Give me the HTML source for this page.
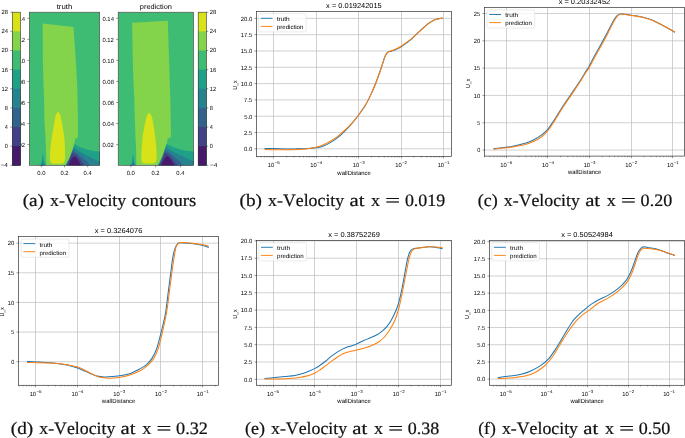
<!DOCTYPE html>
<html><head><meta charset="utf-8"><style>
html,body{margin:0;padding:0;background:#fff;width:685px;height:438px;overflow:hidden}
svg{display:block;font-family:"Liberation Sans",sans-serif;will-change:transform;font-kerning:none;text-rendering:geometricPrecision}
</style></head><body>
<svg width="685" height="438" viewBox="0 0 685 438">
<rect width="685" height="438" fill="#fff"/>
<defs>
<clipPath id="ct"><rect x="29.3" y="12.2" width="70.4" height="153.1"/></clipPath>
<clipPath id="cp"><rect x="118.2" y="12.2" width="75.4" height="153.1"/></clipPath>
</defs>
<g clip-path="url(#ct)">
<rect x="29.3" y="12.2" width="70.4" height="153.1" fill="#3fbc73"/>
<path d="M34.3,165.8 Q39.9,164.4 42.9,164.3 L42.9,165.8 Z" fill="#1fa088"/>
<path d="M42.9,153.2C43.12,153.2 43.36,155.72 43.56,156.98C43.76,158.24 43.87,159.67 44.09,160.76C44.31,161.85 44.53,162.69 44.88,163.53C45.23,164.37 47.08,165.42 46.2,165.8C45.32,166.18 40.48,166.18 39.6,165.8C38.72,165.42 40.57,164.37 40.92,163.53C41.27,162.69 41.49,161.85 41.71,160.76C41.93,159.67 42.04,158.24 42.24,156.98C42.44,155.72 42.68,153.2 42.9,153.2Z" fill="#1fa088"/>
<path d="M42.9,159.8C43.05,159.8 43.21,161 43.34,161.6C43.47,162.2 43.55,162.88 43.69,163.4C43.84,163.92 43.99,164.32 44.22,164.72C44.45,165.12 45.69,165.62 45.1,165.8C44.51,165.98 41.29,165.98 40.7,165.8C40.11,165.62 41.35,165.12 41.58,164.72C41.81,164.32 41.96,163.92 42.11,163.4C42.25,162.88 42.33,162.2 42.46,161.6C42.59,161 42.75,159.8 42.9,159.8Z" fill="#26828e"/>
<path d="M42.9,162.5C42.99,162.5 43.08,163.16 43.16,163.49C43.24,163.82 43.28,164.19 43.37,164.48C43.45,164.77 43.54,164.99 43.68,165.21C43.82,165.43 44.55,165.7 44.2,165.8C43.85,165.9 41.95,165.9 41.6,165.8C41.25,165.7 41.98,165.43 42.12,165.21C42.26,164.99 42.35,164.77 42.43,164.48C42.52,164.19 42.56,163.82 42.64,163.49C42.72,163.16 42.81,162.5 42.9,162.5Z" fill="#33638d"/>
<path d="M42.7,23.5 73.5,26.9 75.8,60 77.4,90 77.9,120 77.9,137.2 75.1,138.9 74.2,143.5 73,148.6 71.3,153.6 69.2,158.7 67.1,162.5 65.4,165.5 46.6,165.5 46.3,160.8 45.6,140 44.4,120 44.1,100 43.4,80 42.9,60Z" fill="#84d44b"/>
<path d="M58.1,112C58.4,112 58.73,112.22 59,112.5C59.27,112.78 59.45,113.2 59.7,113.7C59.95,114.2 60.27,114.73 60.5,115.5C60.73,116.27 60.72,116.32 61.1,118.3C61.48,120.28 62.28,124.37 62.8,127.4C63.32,130.43 63.87,133.57 64.2,136.5C64.53,139.43 64.67,142.25 64.8,145C64.93,147.75 65,150.67 65,153C65,155.33 64.93,157.5 64.8,159C64.67,160.5 64.67,161.25 64.2,162C63.73,162.75 63.2,163.2 62,163.5C60.8,163.8 58.62,163.82 57,163.8C55.38,163.78 53.4,163.78 52.3,163.4C51.2,163.02 50.8,162.57 50.4,161.5C50,160.43 49.92,158.92 49.9,157C49.88,155.08 50.12,152.33 50.3,150C50.48,147.67 50.73,145.25 51,143C51.27,140.75 51.48,139.1 51.9,136.5C52.32,133.9 52.97,130.43 53.5,127.4C54.03,124.37 54.73,120.28 55.1,118.3C55.47,116.32 55.47,116.27 55.7,115.5C55.93,114.73 56.25,114.2 56.5,113.7C56.75,113.2 56.93,112.78 57.2,112.5C57.47,112.22 57.8,112 58.1,112Z" fill="#d8e219"/>
<path d="M74.7,143.9 78.9,146.5 85.6,149.2 92.4,150.7 99.1,151.5 100,151.5 100,166 65,166 67.1,162.5 69.2,158.7 71.3,153.6 73,148.6Z" fill="#1fa088"/>
<path d="M73.8,146.9 78.9,151.1 85.6,154.9 92.4,158.3 99.1,161.6 100,161.8 100,166 65.5,166 67.3,162.5 69.5,158.3 71.6,153.3Z" fill="#26828e"/>
<path d="M73,150.3 78,154 83.1,158.3 87.3,162.1 89.4,164.6 90,166 66,166 67.8,162.5 69.8,158.3 71.8,153.6Z" fill="#33638d"/>
<path d="M72.1,152.4 76.8,155.3 80.6,160 83.5,164.6 84,166 66.5,166 68.2,162.5 70.2,157.8Z" fill="#424086"/>
<path d="M69.5,163 71.3,159.1 74.2,156.2 76.8,158.3 78.9,161.6 80.6,164.6 81,166 68.5,166Z" fill="#48186a"/>
</g>
<rect x="29.3" y="12.2" width="70.4" height="153.1" fill="none" stroke="#333" stroke-width="0.6"/>
<text x="37.25" y="174.5" font-size="5.94" textLength="8.19" lengthAdjust="spacingAndGlyphs" fill="#000">0.0</text>
<text x="60.41" y="174.5" font-size="5.94" textLength="8.07" lengthAdjust="spacingAndGlyphs" fill="#000">0.2</text>
<text x="83.61" y="174.5" font-size="5.94" textLength="8.18" lengthAdjust="spacingAndGlyphs" fill="#000">0.4</text>
<text x="13.52" y="20.6" font-size="5.94" textLength="11.56" lengthAdjust="spacingAndGlyphs" fill="#000">0.14</text>
<text x="13.52" y="41.65" font-size="5.94" textLength="11.45" lengthAdjust="spacingAndGlyphs" fill="#000">0.12</text>
<text x="13.52" y="62.7" font-size="5.94" textLength="11.56" lengthAdjust="spacingAndGlyphs" fill="#000">0.10</text>
<text x="13.52" y="83.75" font-size="5.94" textLength="11.58" lengthAdjust="spacingAndGlyphs" fill="#000">0.08</text>
<text x="13.52" y="104.8" font-size="5.94" textLength="11.61" lengthAdjust="spacingAndGlyphs" fill="#000">0.06</text>
<text x="13.52" y="125.85" font-size="5.94" textLength="11.56" lengthAdjust="spacingAndGlyphs" fill="#000">0.04</text>
<text x="13.52" y="146.9" font-size="5.94" textLength="11.45" lengthAdjust="spacingAndGlyphs" fill="#000">0.02</text>
<path d="M41.35,165.3v2M64.5,165.3v2M87.7,165.3v2M29.3,18.3h-2M29.3,39.35h-2M29.3,60.4h-2M29.3,81.45h-2M29.3,102.5h-2M29.3,123.55h-2M29.3,144.6h-2" stroke="#333" stroke-width="0.5"/>
<text x="56.67" y="8.9" font-size="7.17" textLength="15.67" lengthAdjust="spacingAndGlyphs" fill="#000">truth</text>
<g clip-path="url(#cp)">
<rect x="118.2" y="12.2" width="75.4" height="153.1" fill="#3fbc73"/>
<path d="M123.2,165.8 Q130.1,164.4 133.1,164.3 L133.1,165.8 Z" fill="#1fa088"/>
<path d="M133.1,154C133.32,154 133.56,156.36 133.76,157.54C133.96,158.72 134.07,160.06 134.29,161.08C134.51,162.1 134.73,162.89 135.08,163.68C135.43,164.46 137.28,165.45 136.4,165.8C135.52,166.15 130.68,166.15 129.8,165.8C128.92,165.45 130.77,164.46 131.12,163.68C131.47,162.89 131.69,162.1 131.91,161.08C132.13,160.06 132.24,158.72 132.44,157.54C132.64,156.36 132.88,154 133.1,154Z" fill="#1fa088"/>
<path d="M133.1,159.8C133.25,159.8 133.41,161 133.54,161.6C133.67,162.2 133.75,162.88 133.89,163.4C134.04,163.92 134.19,164.32 134.42,164.72C134.65,165.12 135.89,165.62 135.3,165.8C134.71,165.98 131.49,165.98 130.9,165.8C130.31,165.62 131.55,165.12 131.78,164.72C132.01,164.32 132.16,163.92 132.31,163.4C132.45,162.88 132.53,162.2 132.66,161.6C132.79,161 132.95,159.8 133.1,159.8Z" fill="#26828e"/>
<path d="M133.1,162.5C133.19,162.5 133.28,163.16 133.36,163.49C133.44,163.82 133.48,164.19 133.57,164.48C133.65,164.77 133.74,164.99 133.88,165.21C134.02,165.43 134.75,165.7 134.4,165.8C134.05,165.9 132.15,165.9 131.8,165.8C131.45,165.7 132.18,165.43 132.32,165.21C132.46,164.99 132.55,164.77 132.63,164.48C132.72,164.19 132.76,163.82 132.84,163.49C132.92,163.16 133.01,162.5 133.1,162.5Z" fill="#33638d"/>
<path d="M132.1,22.8 167.8,20.8 169.1,60 170.3,100 170.9,130 170.9,137.2 167.7,138.4 166.8,142.7 165.5,146.9 163.9,151.9 161.8,157.8 159.2,162.9 157.5,165.5 136.4,165.5 136.3,162 136.1,150 135.6,140 134.9,120 134.3,100 133.4,80 132.8,60Z" fill="#84d44b"/>
<path d="M149.2,113.1C149.5,113.1 149.83,113.32 150.1,113.6C150.37,113.88 150.55,114.3 150.8,114.8C151.05,115.3 151.37,116.02 151.6,116.6C151.83,117.18 151.82,116.5 152.2,118.3C152.58,120.1 153.42,124.37 153.9,127.4C154.38,130.43 154.73,133.57 155.1,136.5C155.47,139.43 155.85,142.25 156.1,145C156.35,147.75 156.55,150.67 156.6,153C156.65,155.33 156.57,157.5 156.4,159C156.23,160.5 156.08,161.28 155.6,162C155.12,162.72 154.6,163.03 153.5,163.3C152.4,163.57 150.58,163.6 149,163.6C147.42,163.6 145.18,163.6 144,163.3C142.82,163 142.37,162.85 141.9,161.8C141.43,160.75 141.25,158.97 141.2,157C141.15,155.03 141.45,152.33 141.6,150C141.75,147.67 141.93,145.25 142.1,143C142.27,140.75 142.25,139.1 142.6,136.5C142.95,133.9 143.6,130.43 144.2,127.4C144.8,124.37 145.77,120.1 146.2,118.3C146.63,116.5 146.57,117.18 146.8,116.6C147.03,116.02 147.35,115.3 147.6,114.8C147.85,114.3 148.03,113.88 148.3,113.6C148.57,113.32 148.9,113.1 149.2,113.1Z" fill="#d8e219"/>
<path d="M166.8,143.9 171.9,146.5 178.6,149 185.4,150.7 193.8,151.5 194,151.5 194,166 157,166 159.2,162.9 161.8,157.8 163.9,151.9 165.5,146.9Z" fill="#1fa088"/>
<path d="M166,146.9 171.9,151.1 178.6,154.5 185.4,157.8 193.8,161.2 194,161.3 194,166 157.6,166 159.6,162.9 162.2,157.8 164.2,152Z" fill="#26828e"/>
<path d="M165.1,150.3 170.2,153.6 175.3,157.8 180.3,162.1 182.8,164.6 183.5,166 158.2,166 160.2,162.9 162.6,157.8 164.4,153Z" fill="#33638d"/>
<path d="M164.7,152.4 169.3,155.3 173.6,160.4 176.9,164.6 177.5,166 158.8,166 160.8,162.5 162.8,157.6Z" fill="#424086"/>
<path d="M160.5,166 161.3,164.6 164.3,158.7 166.8,156.2 169.3,157.8 171.9,161.2 174,164.6 174.5,166Z" fill="#48186a"/>
</g>
<rect x="118.2" y="12.2" width="75.4" height="153.1" fill="none" stroke="#333" stroke-width="0.6"/>
<text x="126.7" y="174.5" font-size="5.94" textLength="8.19" lengthAdjust="spacingAndGlyphs" fill="#000">0.0</text>
<text x="151.51" y="174.5" font-size="5.94" textLength="8.07" lengthAdjust="spacingAndGlyphs" fill="#000">0.2</text>
<text x="176.31" y="174.5" font-size="5.94" textLength="8.18" lengthAdjust="spacingAndGlyphs" fill="#000">0.4</text>
<text x="102.42" y="20.6" font-size="5.94" textLength="11.56" lengthAdjust="spacingAndGlyphs" fill="#000">0.14</text>
<text x="102.42" y="41.65" font-size="5.94" textLength="11.45" lengthAdjust="spacingAndGlyphs" fill="#000">0.12</text>
<text x="102.42" y="62.7" font-size="5.94" textLength="11.56" lengthAdjust="spacingAndGlyphs" fill="#000">0.10</text>
<text x="102.42" y="83.75" font-size="5.94" textLength="11.58" lengthAdjust="spacingAndGlyphs" fill="#000">0.08</text>
<text x="102.42" y="104.8" font-size="5.94" textLength="11.61" lengthAdjust="spacingAndGlyphs" fill="#000">0.06</text>
<text x="102.42" y="125.85" font-size="5.94" textLength="11.56" lengthAdjust="spacingAndGlyphs" fill="#000">0.04</text>
<text x="102.42" y="146.9" font-size="5.94" textLength="11.45" lengthAdjust="spacingAndGlyphs" fill="#000">0.02</text>
<path d="M130.8,165.3v2M155.6,165.3v2M180.4,165.3v2M118.2,18.3h-2M118.2,39.35h-2M118.2,60.4h-2M118.2,81.45h-2M118.2,102.5h-2M118.2,123.55h-2M118.2,144.6h-2" stroke="#333" stroke-width="0.5"/>
<text x="139.88" y="8.9" font-size="7.17" textLength="32.08" lengthAdjust="spacingAndGlyphs" fill="#000">prediction</text>
<rect x="12" y="11.7" width="8.7" height="154.1" fill="#fff"/>
<rect x="12.3" y="12.2" width="8.1" height="153.1" fill="#d8e219"/>
<rect x="12.3" y="31.34" width="8.1" height="133.96" fill="#84d44b"/>
<rect x="12.3" y="50.48" width="8.1" height="114.83" fill="#3fbc73"/>
<rect x="12.3" y="69.61" width="8.1" height="95.69" fill="#1fa088"/>
<rect x="12.3" y="88.75" width="8.1" height="76.55" fill="#26828e"/>
<rect x="12.3" y="107.89" width="8.1" height="57.41" fill="#33638d"/>
<rect x="12.3" y="127.03" width="8.1" height="38.28" fill="#424086"/>
<rect x="12.3" y="146.16" width="8.1" height="19.14" fill="#48186a"/>
<rect x="12.3" y="12.2" width="8.1" height="153.1" fill="none" stroke="#333" stroke-width="0.6"/>
<text x="1.45" y="14.15" font-size="5.94" textLength="6.55" lengthAdjust="spacingAndGlyphs" fill="#000">28</text>
<text x="1.45" y="33.29" font-size="5.94" textLength="6.53" lengthAdjust="spacingAndGlyphs" fill="#000">24</text>
<text x="1.45" y="52.43" font-size="5.94" textLength="6.53" lengthAdjust="spacingAndGlyphs" fill="#000">20</text>
<text x="1.49" y="71.56" font-size="5.94" textLength="6.53" lengthAdjust="spacingAndGlyphs" fill="#000">16</text>
<text x="1.5" y="90.7" font-size="5.94" textLength="6.35" lengthAdjust="spacingAndGlyphs" fill="#000">12</text>
<text x="4.84" y="109.84" font-size="5.94" textLength="3.14" lengthAdjust="spacingAndGlyphs" fill="#000">8</text>
<text x="4.86" y="128.98" font-size="5.94" textLength="3.11" lengthAdjust="spacingAndGlyphs" fill="#000">4</text>
<text x="4.86" y="148.11" font-size="5.94" textLength="3.11" lengthAdjust="spacingAndGlyphs" fill="#000">0</text>
<text x="0.53" y="167.25" font-size="5.94" textLength="7.47" lengthAdjust="spacingAndGlyphs" fill="#000">−4</text>
<path d="M12.3,12.2h-2M12.3,31.34h-2M12.3,50.48h-2M12.3,69.61h-2M12.3,88.75h-2M12.3,107.89h-2M12.3,127.03h-2M12.3,146.16h-2M12.3,165.3h-2" stroke="#333" stroke-width="0.5"/>
<rect x="197.9" y="11.7" width="8.7" height="154.1" fill="#fff"/>
<rect x="198.2" y="12.2" width="8.1" height="153.1" fill="#d8e219"/>
<rect x="198.2" y="31.34" width="8.1" height="133.96" fill="#84d44b"/>
<rect x="198.2" y="50.48" width="8.1" height="114.83" fill="#3fbc73"/>
<rect x="198.2" y="69.61" width="8.1" height="95.69" fill="#1fa088"/>
<rect x="198.2" y="88.75" width="8.1" height="76.55" fill="#26828e"/>
<rect x="198.2" y="107.89" width="8.1" height="57.41" fill="#33638d"/>
<rect x="198.2" y="127.03" width="8.1" height="38.28" fill="#424086"/>
<rect x="198.2" y="146.16" width="8.1" height="19.14" fill="#48186a"/>
<rect x="198.2" y="12.2" width="8.1" height="153.1" fill="none" stroke="#333" stroke-width="0.6"/>
<text x="209.79" y="14.15" font-size="5.94" textLength="6.55" lengthAdjust="spacingAndGlyphs" fill="#000">28</text>
<text x="209.79" y="33.29" font-size="5.94" textLength="6.53" lengthAdjust="spacingAndGlyphs" fill="#000">24</text>
<text x="209.79" y="52.43" font-size="5.94" textLength="6.53" lengthAdjust="spacingAndGlyphs" fill="#000">20</text>
<text x="209.83" y="71.56" font-size="5.94" textLength="6.53" lengthAdjust="spacingAndGlyphs" fill="#000">16</text>
<text x="209.85" y="90.7" font-size="5.94" textLength="6.35" lengthAdjust="spacingAndGlyphs" fill="#000">12</text>
<text x="209.81" y="109.84" font-size="5.94" textLength="3.14" lengthAdjust="spacingAndGlyphs" fill="#000">8</text>
<text x="209.83" y="128.98" font-size="5.94" textLength="3.11" lengthAdjust="spacingAndGlyphs" fill="#000">4</text>
<text x="209.83" y="148.11" font-size="5.94" textLength="3.11" lengthAdjust="spacingAndGlyphs" fill="#000">0</text>
<text x="209.94" y="167.25" font-size="5.94" textLength="7.47" lengthAdjust="spacingAndGlyphs" fill="#000">−4</text>
<path d="M206.3,12.2h2M206.3,31.34h2M206.3,50.48h2M206.3,69.61h2M206.3,88.75h2M206.3,107.89h2M206.3,127.03h2M206.3,146.16h2M206.3,165.3h2" stroke="#333" stroke-width="0.5"/>
<path d="M273.5,11.4V156.4M316.5,11.4V156.4M358.5,11.4V156.4M401.5,11.4V156.4M443.5,11.4V156.4M256.5,148.8H451.5M256.5,132.5H451.5M256.5,116.2H451.5M256.5,99.9H451.5M256.5,83.6H451.5M256.5,67.3H451.5M256.5,51H451.5M256.5,34.7H451.5M256.5,18.4H451.5" stroke="#bdbdbd" stroke-width="0.7" fill="none"/>
<path d="M264.6,148.4C266.33,148.43 271.6,148.52 275,148.6C278.4,148.68 281.67,148.85 285,148.9C288.33,148.95 291.95,148.92 295,148.9C298.05,148.88 300.8,148.9 303.3,148.8C305.8,148.7 307.57,148.5 310,148.3C312.43,148.1 315.67,147.98 317.9,147.6C320.13,147.22 321.27,146.87 323.4,146C325.53,145.13 328.27,143.83 330.7,142.4C333.13,140.97 335.88,139.07 338,137.4C340.12,135.73 341.4,134.37 343.4,132.4C345.4,130.43 347.55,128.38 350,125.6C352.45,122.82 355.47,119.22 358.1,115.7C360.73,112.18 363.52,108.37 365.8,104.5C368.08,100.63 370.08,96.2 371.8,92.5C373.52,88.8 374.67,86 376.1,82.3C377.53,78.6 379.28,73.52 380.4,70.3C381.52,67.08 382.1,65.12 382.8,63C383.5,60.88 384.03,59.07 384.6,57.6C385.17,56.13 385.63,55.08 386.2,54.2C386.77,53.32 387.33,52.77 388,52.3C388.67,51.83 389.45,51.65 390.2,51.4C390.95,51.15 391.45,51.17 392.5,50.8C393.55,50.43 395.07,49.87 396.5,49.2C397.93,48.53 398.8,48.3 401.1,46.8C403.4,45.3 407.25,42.77 410.3,40.2C413.35,37.63 416.37,34.2 419.4,31.4C422.43,28.6 425.83,25.38 428.5,23.4C431.17,21.42 433.03,20.42 435.4,19.5C437.77,18.58 441.48,18.17 442.7,17.9" stroke="#1f77b4" stroke-width="1.05" fill="none" stroke-linejoin="round" stroke-linecap="butt"/>
<path d="M264.6,149.6C266.33,149.62 271.6,149.68 275,149.7C278.4,149.72 281.05,149.73 285,149.7C288.95,149.67 294.58,149.68 298.7,149.5C302.82,149.32 306.65,149.02 309.7,148.6C312.75,148.18 314.72,147.65 317,147C319.28,146.35 321.12,145.7 323.4,144.7C325.68,143.7 328.27,142.42 330.7,141C333.13,139.58 335.62,138.03 338,136.2C340.38,134.37 342.75,132.1 345,130C347.25,127.9 349.32,125.98 351.5,123.6C353.68,121.22 355.72,118.88 358.1,115.7C360.48,112.52 363.52,108.37 365.8,104.5C368.08,100.63 370.08,96.2 371.8,92.5C373.52,88.8 374.67,86 376.1,82.3C377.53,78.6 379.28,73.52 380.4,70.3C381.52,67.08 382.1,65.15 382.8,63C383.5,60.85 384.03,58.92 384.6,57.4C385.17,55.88 385.63,54.8 386.2,53.9C386.77,53 387.33,52.47 388,52C388.67,51.53 389.45,51.37 390.2,51.1C390.95,50.83 391.45,50.8 392.5,50.4C393.55,50 395.07,49.4 396.5,48.7C397.93,48 398.8,47.7 401.1,46.2C403.4,44.7 407.25,42.12 410.3,39.7C413.35,37.28 416.37,34.37 419.4,31.7C422.43,29.03 425.83,25.72 428.5,23.7C431.17,21.68 433.03,20.57 435.4,19.6C437.77,18.63 441.48,18.18 442.7,17.9" stroke="#ff7f0e" stroke-width="1.05" fill="none" stroke-linejoin="round" stroke-linecap="butt"/>
<rect x="258.5" y="13.7" width="47.7" height="18.2" rx="1.3" fill="#fff" fill-opacity="0.8" stroke="#d6d6d6" stroke-width="0.5"/>
<path d="M260.7,18.3h11.8" stroke="#1f77b4" stroke-width="0.95"/>
<path d="M260.7,26.4h11.8" stroke="#ff7f0e" stroke-width="0.95"/>
<text x="276.74" y="21.2" font-size="5.94" textLength="12.98" lengthAdjust="spacingAndGlyphs" fill="#000">truth</text>
<text x="276.79" y="29.2" font-size="5.94" textLength="26.57" lengthAdjust="spacingAndGlyphs" fill="#000">prediction</text>
<rect x="256.5" y="11.4" width="195" height="145" fill="none" stroke="#333" stroke-width="0.7"/>
<path d="M256.91,156.4v1.1M261.02,156.4v1.1M264.38,156.4v1.1M267.22,156.4v1.1M269.69,156.4v1.1M271.86,156.4v1.1M273.5,156.4v2M286.58,156.4v1.1M294.05,156.4v1.1M299.36,156.4v1.1M303.47,156.4v1.1M306.83,156.4v1.1M309.67,156.4v1.1M312.14,156.4v1.1M314.31,156.4v1.1M316.5,156.4v2M329.03,156.4v1.1M336.5,156.4v1.1M341.81,156.4v1.1M345.92,156.4v1.1M349.28,156.4v1.1M352.12,156.4v1.1M354.59,156.4v1.1M356.76,156.4v1.1M358.5,156.4v2M371.48,156.4v1.1M378.95,156.4v1.1M384.26,156.4v1.1M388.37,156.4v1.1M391.73,156.4v1.1M394.57,156.4v1.1M397.04,156.4v1.1M399.21,156.4v1.1M401.5,156.4v2M413.93,156.4v1.1M421.4,156.4v1.1M426.71,156.4v1.1M430.82,156.4v1.1M434.18,156.4v1.1M437.02,156.4v1.1M439.49,156.4v1.1M441.66,156.4v1.1M443.5,156.4v2M256.5,148.8h-2M256.5,132.5h-2M256.5,116.2h-2M256.5,99.9h-2M256.5,83.6h-2M256.5,67.3h-2M256.5,51h-2M256.5,34.7h-2M256.5,18.4h-2" stroke="#333" stroke-width="0.5" fill="none"/>
<text x="267.83" y="166.8" font-size="5.94" textLength="6.48" lengthAdjust="spacingAndGlyphs" fill="#000">10</text>
<text x="274.61" y="164" font-size="4.16" textLength="5.17" lengthAdjust="spacingAndGlyphs" fill="#000">−5</text>
<text x="310.28" y="166.8" font-size="5.94" textLength="6.48" lengthAdjust="spacingAndGlyphs" fill="#000">10</text>
<text x="317.05" y="164" font-size="4.16" textLength="5.23" lengthAdjust="spacingAndGlyphs" fill="#000">−4</text>
<text x="352.73" y="166.8" font-size="5.94" textLength="6.48" lengthAdjust="spacingAndGlyphs" fill="#000">10</text>
<text x="359.51" y="164" font-size="4.16" textLength="5.2" lengthAdjust="spacingAndGlyphs" fill="#000">−3</text>
<text x="395.18" y="166.8" font-size="5.94" textLength="6.48" lengthAdjust="spacingAndGlyphs" fill="#000">10</text>
<text x="401.96" y="164" font-size="4.16" textLength="5.15" lengthAdjust="spacingAndGlyphs" fill="#000">−2</text>
<text x="437.63" y="166.8" font-size="5.94" textLength="6.48" lengthAdjust="spacingAndGlyphs" fill="#000">10</text>
<text x="444.41" y="164" font-size="4.16" textLength="5.18" lengthAdjust="spacingAndGlyphs" fill="#000">−1</text>
<text x="244.09" y="151.1" font-size="5.94" textLength="8.19" lengthAdjust="spacingAndGlyphs" fill="#000">0.0</text>
<text x="244.07" y="134.8" font-size="5.94" textLength="8.12" lengthAdjust="spacingAndGlyphs" fill="#000">2.5</text>
<text x="244.15" y="118.5" font-size="5.94" textLength="8.13" lengthAdjust="spacingAndGlyphs" fill="#000">5.0</text>
<text x="244.11" y="102.2" font-size="5.94" textLength="8.07" lengthAdjust="spacingAndGlyphs" fill="#000">7.5</text>
<text x="240.73" y="85.9" font-size="5.94" textLength="11.55" lengthAdjust="spacingAndGlyphs" fill="#000">10.0</text>
<text x="240.73" y="69.6" font-size="5.94" textLength="11.45" lengthAdjust="spacingAndGlyphs" fill="#000">12.5</text>
<text x="240.73" y="53.3" font-size="5.94" textLength="11.55" lengthAdjust="spacingAndGlyphs" fill="#000">15.0</text>
<text x="240.73" y="37" font-size="5.94" textLength="11.45" lengthAdjust="spacingAndGlyphs" fill="#000">17.5</text>
<text x="240.69" y="20.7" font-size="5.94" textLength="11.59" lengthAdjust="spacingAndGlyphs" fill="#000">20.0</text>
<text x="337.38" y="174.5" font-size="5.94" textLength="33.45" lengthAdjust="spacingAndGlyphs" fill="#000">wallDistance</text>
<g transform="translate(236.9,85) rotate(-90)">
<text x="-4.78" y="0" font-size="5.94" textLength="9.5" lengthAdjust="spacingAndGlyphs" fill="#000">U_x</text>
</g>
<text x="326.11" y="8.3" font-size="7.17" textLength="55.62" lengthAdjust="spacingAndGlyphs" fill="#000">x = 0.019242015</text>
<path d="M506.5,7.4V156.1M547.5,7.4V156.1M589.5,7.4V156.1M631.5,7.4V156.1M672.5,7.4V156.1M484.5,150.05H684.5M484.5,122.74H684.5M484.5,95.43H684.5M484.5,68.12H684.5M484.5,40.81H684.5M484.5,13.5H684.5" stroke="#bdbdbd" stroke-width="0.7" fill="none"/>
<path d="M493.4,148.7C495.12,148.52 500.47,148 503.7,147.6C506.93,147.2 509.38,146.97 512.8,146.3C516.22,145.63 520.77,144.65 524.2,143.6C527.63,142.55 530.55,141.4 533.4,140C536.25,138.6 538.95,136.93 541.3,135.2C543.65,133.47 545.4,132.03 547.5,129.6C549.6,127.17 551.32,124.53 553.9,120.6C556.48,116.67 559.95,110.67 563,106C566.05,101.33 569.37,96.77 572.2,92.6C575.03,88.43 577.97,84.15 580,81C582.03,77.85 582.9,76.13 584.4,73.7C585.9,71.27 587.23,69.52 589,66.4C590.77,63.28 593,58.68 595,55C597,51.32 598.98,47.97 601,44.3C603.02,40.63 605.18,36.65 607.1,33C609.02,29.35 610.95,25.18 612.5,22.4C614.05,19.62 615.12,17.7 616.4,16.3C617.68,14.9 618.8,14.33 620.2,14C621.6,13.67 623.02,14.1 624.8,14.3C626.58,14.5 627.85,14.7 630.9,15.2C633.95,15.7 639.7,16.53 643.1,17.3C646.5,18.07 648.22,18.57 651.3,19.8C654.38,21.03 657.65,22.63 661.6,24.7C665.55,26.77 672.77,30.95 675,32.2" stroke="#1f77b4" stroke-width="1.05" fill="none" stroke-linejoin="round" stroke-linecap="butt"/>
<path d="M493.4,149.2C495.12,149.02 500.47,148.47 503.7,148.1C506.93,147.73 509.38,147.55 512.8,147C516.22,146.45 520.77,145.7 524.2,144.8C527.63,143.9 530.55,142.9 533.4,141.6C536.25,140.3 538.95,138.73 541.3,137C543.65,135.27 545.4,133.72 547.5,131.2C549.6,128.68 551.32,125.9 553.9,121.9C556.48,117.9 559.95,111.92 563,107.2C566.05,102.48 569.37,97.8 572.2,93.6C575.03,89.4 577.87,85.32 580,82C582.13,78.68 583.4,76.22 585,73.7C586.6,71.18 587.82,69.95 589.6,66.9C591.38,63.85 593.67,59.1 595.7,55.4C597.73,51.7 599.77,48.4 601.8,44.7C603.83,41 605.98,36.9 607.9,33.2C609.82,29.5 611.77,25.3 613.3,22.5C614.83,19.7 615.83,17.8 617.1,16.4C618.37,15 619.62,14.43 620.9,14.1C622.18,13.77 623.13,14.2 624.8,14.4C626.47,14.6 627.85,14.78 630.9,15.3C633.95,15.82 639.7,16.73 643.1,17.5C646.5,18.27 648.22,18.68 651.3,19.9C654.38,21.12 657.65,22.75 661.6,24.8C665.55,26.85 672.77,30.97 675,32.2" stroke="#ff7f0e" stroke-width="1.05" fill="none" stroke-linejoin="round" stroke-linecap="butt"/>
<rect x="487" y="9.9" width="47.7" height="18.2" rx="1.3" fill="#fff" fill-opacity="0.8" stroke="#d6d6d6" stroke-width="0.5"/>
<path d="M489.2,14.5h11.8" stroke="#1f77b4" stroke-width="0.95"/>
<path d="M489.2,22.6h11.8" stroke="#ff7f0e" stroke-width="0.95"/>
<text x="505.24" y="17.4" font-size="5.94" textLength="12.98" lengthAdjust="spacingAndGlyphs" fill="#000">truth</text>
<text x="505.29" y="25.4" font-size="5.94" textLength="26.57" lengthAdjust="spacingAndGlyphs" fill="#000">prediction</text>
<rect x="484.5" y="7.4" width="200" height="148.7" fill="none" stroke="#333" stroke-width="0.7"/>
<path d="M484.52,156.1v1.1M489.73,156.1v1.1M493.76,156.1v1.1M497.06,156.1v1.1M499.85,156.1v1.1M502.26,156.1v1.1M504.39,156.1v1.1M506.5,156.1v2M518.84,156.1v1.1M526.17,156.1v1.1M531.38,156.1v1.1M535.41,156.1v1.1M538.71,156.1v1.1M541.5,156.1v1.1M543.91,156.1v1.1M546.04,156.1v1.1M547.5,156.1v2M560.49,156.1v1.1M567.82,156.1v1.1M573.03,156.1v1.1M577.06,156.1v1.1M580.36,156.1v1.1M583.15,156.1v1.1M585.56,156.1v1.1M587.69,156.1v1.1M589.5,156.1v2M602.14,156.1v1.1M609.47,156.1v1.1M614.68,156.1v1.1M618.71,156.1v1.1M622.01,156.1v1.1M624.8,156.1v1.1M627.21,156.1v1.1M629.34,156.1v1.1M631.5,156.1v2M643.79,156.1v1.1M651.12,156.1v1.1M656.33,156.1v1.1M660.36,156.1v1.1M663.66,156.1v1.1M666.45,156.1v1.1M668.86,156.1v1.1M670.99,156.1v1.1M672.5,156.1v2M484.5,150.05h-2M484.5,122.74h-2M484.5,95.43h-2M484.5,68.12h-2M484.5,40.81h-2M484.5,13.5h-2" stroke="#333" stroke-width="0.5" fill="none"/>
<text x="500.33" y="166.5" font-size="5.94" textLength="6.48" lengthAdjust="spacingAndGlyphs" fill="#000">10</text>
<text x="507.11" y="163.7" font-size="4.16" textLength="5.17" lengthAdjust="spacingAndGlyphs" fill="#000">−5</text>
<text x="541.98" y="166.5" font-size="5.94" textLength="6.48" lengthAdjust="spacingAndGlyphs" fill="#000">10</text>
<text x="548.75" y="163.7" font-size="4.16" textLength="5.23" lengthAdjust="spacingAndGlyphs" fill="#000">−4</text>
<text x="583.63" y="166.5" font-size="5.94" textLength="6.48" lengthAdjust="spacingAndGlyphs" fill="#000">10</text>
<text x="590.41" y="163.7" font-size="4.16" textLength="5.2" lengthAdjust="spacingAndGlyphs" fill="#000">−3</text>
<text x="625.28" y="166.5" font-size="5.94" textLength="6.48" lengthAdjust="spacingAndGlyphs" fill="#000">10</text>
<text x="632.06" y="163.7" font-size="4.16" textLength="5.15" lengthAdjust="spacingAndGlyphs" fill="#000">−2</text>
<text x="666.93" y="166.5" font-size="5.94" textLength="6.48" lengthAdjust="spacingAndGlyphs" fill="#000">10</text>
<text x="673.71" y="163.7" font-size="4.16" textLength="5.18" lengthAdjust="spacingAndGlyphs" fill="#000">−1</text>
<text x="477.16" y="152.35" font-size="5.94" textLength="3.11" lengthAdjust="spacingAndGlyphs" fill="#000">0</text>
<text x="477.23" y="125.04" font-size="5.94" textLength="2.93" lengthAdjust="spacingAndGlyphs" fill="#000">5</text>
<text x="473.79" y="97.73" font-size="5.94" textLength="6.48" lengthAdjust="spacingAndGlyphs" fill="#000">10</text>
<text x="473.8" y="70.42" font-size="5.94" textLength="6.38" lengthAdjust="spacingAndGlyphs" fill="#000">15</text>
<text x="473.75" y="43.11" font-size="5.94" textLength="6.53" lengthAdjust="spacingAndGlyphs" fill="#000">20</text>
<text x="473.75" y="15.8" font-size="5.94" textLength="6.43" lengthAdjust="spacingAndGlyphs" fill="#000">25</text>
<text x="567.88" y="174.2" font-size="5.94" textLength="33.45" lengthAdjust="spacingAndGlyphs" fill="#000">wallDistance</text>
<g transform="translate(469.6,83.3) rotate(-90)">
<text x="-4.78" y="0" font-size="5.94" textLength="9.5" lengthAdjust="spacingAndGlyphs" fill="#000">U_x</text>
</g>
<text x="558.65" y="4.3" font-size="7.17" textLength="51.53" lengthAdjust="spacingAndGlyphs" fill="#000">x = 0.20332452</text>
<path d="M35.5,236.5V385.3M77.5,236.5V385.3M119.5,236.5V385.3M160.5,236.5V385.3M202.5,236.5V385.3M18.5,361.7H218.5M18.5,332.06H218.5M18.5,302.43H218.5M18.5,272.79H218.5M18.5,243.15H218.5" stroke="#bdbdbd" stroke-width="0.7" fill="none"/>
<path d="M27,361.5C28.47,361.57 32,361.68 35.8,361.9C39.6,362.12 45.13,362.37 49.8,362.8C54.47,363.23 60,363.9 63.8,364.5C67.6,365.1 69.68,365.58 72.6,366.4C75.52,367.22 78.4,368.23 81.3,369.4C84.2,370.57 87.37,372.28 90,373.4C92.63,374.52 94.75,375.5 97.1,376.1C99.45,376.7 101.47,376.92 104.1,377C106.73,377.08 109.98,376.85 112.9,376.6C115.82,376.35 118.68,376.03 121.6,375.5C124.52,374.97 127.48,374.43 130.4,373.4C133.32,372.37 136.43,370.73 139.1,369.3C141.77,367.87 144.27,366.62 146.4,364.8C148.53,362.98 150.22,360.98 151.9,358.4C153.58,355.82 155.13,352.95 156.5,349.3C157.87,345.65 159.05,340.47 160.1,336.5C161.15,332.53 161.88,329.45 162.8,325.5C163.72,321.55 164.6,319.08 165.6,312.8C166.6,306.52 167.92,294.63 168.8,287.8C169.68,280.97 170.23,276.87 170.9,271.8C171.57,266.73 172.08,261.4 172.8,257.4C173.52,253.4 174.4,250.07 175.2,247.8C176,245.53 176.8,244.65 177.6,243.8C178.4,242.95 178.13,242.78 180,242.7C181.87,242.62 185.73,242.98 188.8,243.3C191.87,243.62 195.73,244.17 198.4,244.6C201.07,245.03 203.07,245.42 204.8,245.9C206.53,246.38 208.13,247.23 208.8,247.5" stroke="#1f77b4" stroke-width="1.05" fill="none" stroke-linejoin="round" stroke-linecap="butt"/>
<path d="M27,362.4C30.8,362.5 43.67,362.7 49.8,363C55.93,363.3 59.13,363.52 63.8,364.2C68.47,364.88 73.43,365.65 77.8,367.1C82.17,368.55 86.5,371.25 90,372.9C93.5,374.55 95.58,376.12 98.8,377C102.02,377.88 105.78,378.15 109.3,378.2C112.82,378.25 116.38,377.87 119.9,377.3C123.42,376.73 126.88,375.97 130.4,374.8C133.92,373.63 138.03,371.97 141,370.3C143.97,368.63 146.08,366.78 148.2,364.8C150.32,362.82 152.02,361.13 153.7,358.4C155.38,355.67 157.02,352.05 158.3,348.4C159.58,344.75 160.03,342.43 161.4,336.5C162.77,330.57 165.08,320.92 166.5,312.8C167.92,304.68 168.98,294.63 169.9,287.8C170.82,280.97 171.3,276.87 172,271.8C172.7,266.73 173.43,261.53 174.1,257.4C174.77,253.27 175.28,249.35 176,247C176.72,244.65 177.6,244.05 178.4,243.3C179.2,242.55 178.53,242.5 180.8,242.5C183.07,242.5 188.53,242.95 192,243.3C195.47,243.65 198.8,244.17 201.6,244.6C204.4,245.03 207.6,245.68 208.8,245.9" stroke="#ff7f0e" stroke-width="1.05" fill="none" stroke-linejoin="round" stroke-linecap="butt"/>
<rect x="21.2" y="239" width="47.7" height="18.2" rx="1.3" fill="#fff" fill-opacity="0.8" stroke="#d6d6d6" stroke-width="0.5"/>
<path d="M23.4,243.6h11.8" stroke="#1f77b4" stroke-width="0.95"/>
<path d="M23.4,251.7h11.8" stroke="#ff7f0e" stroke-width="0.95"/>
<text x="39.44" y="246.5" font-size="5.94" textLength="12.98" lengthAdjust="spacingAndGlyphs" fill="#000">truth</text>
<text x="39.49" y="254.5" font-size="5.94" textLength="26.57" lengthAdjust="spacingAndGlyphs" fill="#000">prediction</text>
<rect x="18.5" y="236.5" width="200" height="148.8" fill="none" stroke="#333" stroke-width="0.7"/>
<path d="M18.97,385.3v1.1M23.02,385.3v1.1M26.33,385.3v1.1M29.13,385.3v1.1M31.55,385.3v1.1M33.69,385.3v1.1M35.5,385.3v2M48.18,385.3v1.1M55.53,385.3v1.1M60.75,385.3v1.1M64.8,385.3v1.1M68.11,385.3v1.1M70.91,385.3v1.1M73.33,385.3v1.1M75.47,385.3v1.1M77.5,385.3v2M89.96,385.3v1.1M97.31,385.3v1.1M102.53,385.3v1.1M106.58,385.3v1.1M109.89,385.3v1.1M112.69,385.3v1.1M115.11,385.3v1.1M117.25,385.3v1.1M119.5,385.3v2M131.74,385.3v1.1M139.09,385.3v1.1M144.31,385.3v1.1M148.36,385.3v1.1M151.67,385.3v1.1M154.47,385.3v1.1M156.89,385.3v1.1M159.03,385.3v1.1M160.5,385.3v2M173.52,385.3v1.1M180.87,385.3v1.1M186.09,385.3v1.1M190.14,385.3v1.1M193.45,385.3v1.1M196.25,385.3v1.1M198.67,385.3v1.1M200.81,385.3v1.1M202.5,385.3v2M215.3,385.3v1.1M18.5,361.7h-2M18.5,332.06h-2M18.5,302.43h-2M18.5,272.79h-2M18.5,243.15h-2" stroke="#333" stroke-width="0.5" fill="none"/>
<text x="29.63" y="395.7" font-size="5.94" textLength="6.48" lengthAdjust="spacingAndGlyphs" fill="#000">10</text>
<text x="36.41" y="392.9" font-size="4.16" textLength="5.17" lengthAdjust="spacingAndGlyphs" fill="#000">−5</text>
<text x="71.41" y="395.7" font-size="5.94" textLength="6.48" lengthAdjust="spacingAndGlyphs" fill="#000">10</text>
<text x="78.18" y="392.9" font-size="4.16" textLength="5.23" lengthAdjust="spacingAndGlyphs" fill="#000">−4</text>
<text x="113.19" y="395.7" font-size="5.94" textLength="6.48" lengthAdjust="spacingAndGlyphs" fill="#000">10</text>
<text x="119.97" y="392.9" font-size="4.16" textLength="5.2" lengthAdjust="spacingAndGlyphs" fill="#000">−3</text>
<text x="154.97" y="395.7" font-size="5.94" textLength="6.48" lengthAdjust="spacingAndGlyphs" fill="#000">10</text>
<text x="161.75" y="392.9" font-size="4.16" textLength="5.15" lengthAdjust="spacingAndGlyphs" fill="#000">−2</text>
<text x="196.75" y="395.7" font-size="5.94" textLength="6.48" lengthAdjust="spacingAndGlyphs" fill="#000">10</text>
<text x="203.53" y="392.9" font-size="4.16" textLength="5.18" lengthAdjust="spacingAndGlyphs" fill="#000">−1</text>
<text x="11.16" y="364" font-size="5.94" textLength="3.11" lengthAdjust="spacingAndGlyphs" fill="#000">0</text>
<text x="11.23" y="334.36" font-size="5.94" textLength="2.93" lengthAdjust="spacingAndGlyphs" fill="#000">5</text>
<text x="7.79" y="304.73" font-size="5.94" textLength="6.48" lengthAdjust="spacingAndGlyphs" fill="#000">10</text>
<text x="7.8" y="275.09" font-size="5.94" textLength="6.38" lengthAdjust="spacingAndGlyphs" fill="#000">15</text>
<text x="7.75" y="245.45" font-size="5.94" textLength="6.53" lengthAdjust="spacingAndGlyphs" fill="#000">20</text>
<text x="101.88" y="403.4" font-size="5.94" textLength="33.45" lengthAdjust="spacingAndGlyphs" fill="#000">wallDistance</text>
<g transform="translate(3.9,311.8) rotate(-90)">
<text x="-4.78" y="0" font-size="5.94" textLength="9.5" lengthAdjust="spacingAndGlyphs" fill="#000">U_x</text>
</g>
<text x="94.69" y="233.4" font-size="7.17" textLength="47.65" lengthAdjust="spacingAndGlyphs" fill="#000">x = 0.3264076</text>
<path d="M273.5,240.5V385.3M314.5,240.5V385.3M356.5,240.5V385.3M398.5,240.5V385.3M440.5,240.5V385.3M256.5,379.3H451.5M256.5,361.99H451.5M256.5,344.69H451.5M256.5,327.38H451.5M256.5,310.07H451.5M256.5,292.77H451.5M256.5,275.46H451.5M256.5,258.16H451.5M256.5,240.85H451.5" stroke="#bdbdbd" stroke-width="0.7" fill="none"/>
<path d="M264.5,378.6C266.22,378.43 271.38,377.93 274.8,377.6C278.22,377.27 281.63,376.95 285,376.6C288.37,376.25 292.2,375.97 295,375.5C297.8,375.03 299.52,374.5 301.8,373.8C304.08,373.1 306.57,372.17 308.7,371.3C310.83,370.43 312.7,369.62 314.6,368.6C316.5,367.58 318.23,366.47 320.1,365.2C321.97,363.93 323.9,362.52 325.8,361C327.7,359.48 329.6,357.58 331.5,356.1C333.4,354.62 335.3,353.3 337.2,352.1C339.1,350.9 341,349.82 342.9,348.9C344.8,347.98 346.58,347.3 348.6,346.6C350.62,345.9 352.48,345.7 355,344.7C357.52,343.7 361.12,341.75 363.7,340.6C366.28,339.45 368.22,338.82 370.5,337.8C372.78,336.78 375.4,335.67 377.4,334.5C379.4,333.33 380.9,332.17 382.5,330.8C384.1,329.43 385.67,327.85 387,326.3C388.33,324.75 389.37,323.33 390.5,321.5C391.63,319.67 392.75,317.47 393.8,315.3C394.85,313.13 395.88,311 396.8,308.5C397.72,306 398.52,303.22 399.3,300.3C400.08,297.38 400.82,294.2 401.5,291C402.18,287.8 402.73,284.68 403.4,281.1C404.07,277.52 404.82,273.15 405.5,269.5C406.18,265.85 406.83,262.03 407.5,259.2C408.17,256.37 408.82,254.1 409.5,252.5C410.18,250.9 410.85,250.25 411.6,249.6C412.35,248.95 413.08,248.83 414,248.6C414.92,248.37 415.6,248.42 417.1,248.2C418.6,247.98 420.93,247.53 423,247.3C425.07,247.07 427.05,246.73 429.5,246.8C431.95,246.87 435.52,247.37 437.7,247.7C439.88,248.03 441.78,248.62 442.6,248.8" stroke="#1f77b4" stroke-width="1.05" fill="none" stroke-linejoin="round" stroke-linecap="butt"/>
<path d="M264.5,379.1C266.25,379.08 271.58,379.07 275,379C278.42,378.93 281.67,378.85 285,378.7C288.33,378.55 292.2,378.38 295,378.1C297.8,377.82 299.52,377.43 301.8,377C304.08,376.57 306.57,376.13 308.7,375.5C310.83,374.87 312.7,374.15 314.6,373.2C316.5,372.25 318.23,371.07 320.1,369.8C321.97,368.53 323.9,367.03 325.8,365.6C327.7,364.17 329.6,362.6 331.5,361.2C333.4,359.8 335.3,358.43 337.2,357.2C339.1,355.97 341,354.68 342.9,353.8C344.8,352.92 346.58,352.47 348.6,351.9C350.62,351.33 352.48,351.02 355,350.4C357.52,349.78 361.12,348.93 363.7,348.2C366.28,347.47 368.22,346.92 370.5,346C372.78,345.08 375.23,344.03 377.4,342.7C379.57,341.37 381.67,339.82 383.5,338C385.33,336.18 386.98,333.8 388.4,331.8C389.82,329.8 390.87,328.05 392,326C393.13,323.95 394.17,322.08 395.2,319.5C396.23,316.92 397.28,313.7 398.2,310.5C399.12,307.3 399.93,303.72 400.7,300.3C401.47,296.88 402.12,293.43 402.8,290C403.48,286.57 404.1,283.28 404.8,279.7C405.5,276.12 406.32,271.92 407,268.5C407.68,265.08 408.23,261.87 408.9,259.2C409.57,256.53 410.32,254.1 411,252.5C411.68,250.9 412.17,250.28 413,249.6C413.83,248.92 414.63,248.72 416,248.4C417.37,248.08 418.95,247.97 421.2,247.7C423.45,247.43 427.03,246.92 429.5,246.8C431.97,246.68 433.82,246.85 436,247C438.18,247.15 441.5,247.58 442.6,247.7" stroke="#ff7f0e" stroke-width="1.05" fill="none" stroke-linejoin="round" stroke-linecap="butt"/>
<rect x="258.8" y="242.7" width="47.7" height="18.2" rx="1.3" fill="#fff" fill-opacity="0.8" stroke="#d6d6d6" stroke-width="0.5"/>
<path d="M261,247.3h11.8" stroke="#1f77b4" stroke-width="0.95"/>
<path d="M261,255.4h11.8" stroke="#ff7f0e" stroke-width="0.95"/>
<text x="277.04" y="250.2" font-size="5.94" textLength="12.98" lengthAdjust="spacingAndGlyphs" fill="#000">truth</text>
<text x="277.09" y="258.2" font-size="5.94" textLength="26.57" lengthAdjust="spacingAndGlyphs" fill="#000">prediction</text>
<rect x="256.5" y="240.5" width="195" height="144.8" fill="none" stroke="#333" stroke-width="0.7"/>
<path d="M260.39,385.3v1.1M263.7,385.3v1.1M266.51,385.3v1.1M268.94,385.3v1.1M271.08,385.3v1.1M273.5,385.3v2M285.61,385.3v1.1M292.99,385.3v1.1M298.23,385.3v1.1M302.29,385.3v1.1M305.6,385.3v1.1M308.41,385.3v1.1M310.84,385.3v1.1M312.98,385.3v1.1M314.5,385.3v2M327.51,385.3v1.1M334.89,385.3v1.1M340.13,385.3v1.1M344.19,385.3v1.1M347.5,385.3v1.1M350.31,385.3v1.1M352.74,385.3v1.1M354.88,385.3v1.1M356.5,385.3v2M369.41,385.3v1.1M376.79,385.3v1.1M382.03,385.3v1.1M386.09,385.3v1.1M389.4,385.3v1.1M392.21,385.3v1.1M394.64,385.3v1.1M396.78,385.3v1.1M398.5,385.3v2M411.31,385.3v1.1M418.69,385.3v1.1M423.93,385.3v1.1M427.99,385.3v1.1M431.3,385.3v1.1M434.11,385.3v1.1M436.54,385.3v1.1M438.68,385.3v1.1M440.5,385.3v2M256.5,379.3h-2M256.5,361.99h-2M256.5,344.69h-2M256.5,327.38h-2M256.5,310.07h-2M256.5,292.77h-2M256.5,275.46h-2M256.5,258.16h-2M256.5,240.85h-2" stroke="#333" stroke-width="0.5" fill="none"/>
<text x="267.03" y="395.7" font-size="5.94" textLength="6.48" lengthAdjust="spacingAndGlyphs" fill="#000">10</text>
<text x="273.81" y="392.9" font-size="4.16" textLength="5.17" lengthAdjust="spacingAndGlyphs" fill="#000">−5</text>
<text x="308.93" y="395.7" font-size="5.94" textLength="6.48" lengthAdjust="spacingAndGlyphs" fill="#000">10</text>
<text x="315.7" y="392.9" font-size="4.16" textLength="5.23" lengthAdjust="spacingAndGlyphs" fill="#000">−4</text>
<text x="350.83" y="395.7" font-size="5.94" textLength="6.48" lengthAdjust="spacingAndGlyphs" fill="#000">10</text>
<text x="357.61" y="392.9" font-size="4.16" textLength="5.2" lengthAdjust="spacingAndGlyphs" fill="#000">−3</text>
<text x="392.73" y="395.7" font-size="5.94" textLength="6.48" lengthAdjust="spacingAndGlyphs" fill="#000">10</text>
<text x="399.51" y="392.9" font-size="4.16" textLength="5.15" lengthAdjust="spacingAndGlyphs" fill="#000">−2</text>
<text x="434.63" y="395.7" font-size="5.94" textLength="6.48" lengthAdjust="spacingAndGlyphs" fill="#000">10</text>
<text x="441.41" y="392.9" font-size="4.16" textLength="5.18" lengthAdjust="spacingAndGlyphs" fill="#000">−1</text>
<text x="244.09" y="381.6" font-size="5.94" textLength="8.19" lengthAdjust="spacingAndGlyphs" fill="#000">0.0</text>
<text x="244.07" y="364.29" font-size="5.94" textLength="8.12" lengthAdjust="spacingAndGlyphs" fill="#000">2.5</text>
<text x="244.15" y="346.99" font-size="5.94" textLength="8.13" lengthAdjust="spacingAndGlyphs" fill="#000">5.0</text>
<text x="244.11" y="329.68" font-size="5.94" textLength="8.07" lengthAdjust="spacingAndGlyphs" fill="#000">7.5</text>
<text x="240.73" y="312.38" font-size="5.94" textLength="11.55" lengthAdjust="spacingAndGlyphs" fill="#000">10.0</text>
<text x="240.73" y="295.07" font-size="5.94" textLength="11.45" lengthAdjust="spacingAndGlyphs" fill="#000">12.5</text>
<text x="240.73" y="277.76" font-size="5.94" textLength="11.55" lengthAdjust="spacingAndGlyphs" fill="#000">15.0</text>
<text x="240.73" y="260.46" font-size="5.94" textLength="11.45" lengthAdjust="spacingAndGlyphs" fill="#000">17.5</text>
<text x="240.69" y="243.15" font-size="5.94" textLength="11.59" lengthAdjust="spacingAndGlyphs" fill="#000">20.0</text>
<text x="337.38" y="403.4" font-size="5.94" textLength="33.45" lengthAdjust="spacingAndGlyphs" fill="#000">wallDistance</text>
<g transform="translate(236.6,314.1) rotate(-90)">
<text x="-4.78" y="0" font-size="5.94" textLength="9.5" lengthAdjust="spacingAndGlyphs" fill="#000">U_x</text>
</g>
<text x="328.15" y="237.4" font-size="7.17" textLength="51.7" lengthAdjust="spacingAndGlyphs" fill="#000">x = 0.38752269</text>
<path d="M505.5,240.5V385.3M546.5,240.5V385.3M587.5,240.5V385.3M628.5,240.5V385.3M669.5,240.5V385.3M489.5,379.1H684.5M489.5,361.91H684.5M489.5,344.73H684.5M489.5,327.54H684.5M489.5,310.35H684.5M489.5,293.16H684.5M489.5,275.98H684.5M489.5,258.79H684.5M489.5,241.6H684.5" stroke="#bdbdbd" stroke-width="0.7" fill="none"/>
<path d="M497.8,377.7C499.73,377.43 505.52,376.68 509.4,376.1C513.28,375.52 517.53,375.07 521.1,374.2C524.67,373.33 527.57,372.33 530.8,370.9C534.03,369.47 537.58,367.55 540.5,365.6C543.42,363.65 545.72,362.05 548.3,359.2C550.88,356.35 553.42,352.45 556,348.5C558.58,344.55 561.2,339.78 563.8,335.5C566.4,331.22 569.48,325.92 571.6,322.8C573.72,319.68 574.88,318.55 576.5,316.8C578.12,315.05 579.5,313.88 581.3,312.3C583.1,310.72 585.43,308.78 587.3,307.3C589.17,305.82 590.68,304.62 592.5,303.4C594.32,302.18 595.42,301.47 598.2,300C600.98,298.53 605.85,296.53 609.2,294.6C612.55,292.67 615.57,290.65 618.3,288.4C621.03,286.15 623.82,283.25 625.6,281.1C627.38,278.95 628,277.35 629,275.5C630,273.65 630.8,271.92 631.6,270C632.4,268.08 633.12,265.92 633.8,264C634.48,262.08 635.07,260.25 635.7,258.5C636.33,256.75 636.97,254.92 637.6,253.5C638.23,252.08 638.88,250.95 639.5,250C640.12,249.05 640.72,248.32 641.3,247.8C641.88,247.28 642.22,247.02 643,246.9C643.78,246.78 644.95,246.97 646,247.1C647.05,247.23 647.53,247.37 649.3,247.7C651.07,248.03 653.85,248.32 656.6,249.1C659.35,249.88 662.75,251.33 665.8,252.4C668.85,253.47 673.38,254.98 674.9,255.5" stroke="#1f77b4" stroke-width="1.05" fill="none" stroke-linejoin="round" stroke-linecap="butt"/>
<path d="M497.8,378.6C500.38,378.45 508.77,378.12 513.3,377.7C517.83,377.28 521.43,376.92 525,376.1C528.57,375.28 531.47,374.48 534.7,372.8C537.93,371.12 541.5,368.58 544.4,366C547.3,363.42 549.52,360.85 552.1,357.3C554.68,353.75 557.3,348.88 559.9,344.7C562.5,340.52 565.12,336.02 567.7,332.2C570.28,328.38 573.35,324.3 575.4,321.8C577.45,319.3 578.53,318.57 580,317.2C581.47,315.83 582.53,314.87 584.2,313.6C585.87,312.33 587.67,311.33 590,309.6C592.33,307.87 595,305.23 598.2,303.2C601.4,301.17 605.85,299.42 609.2,297.4C612.55,295.38 615.42,293.52 618.3,291.1C621.18,288.68 624.55,285.25 626.5,282.9C628.45,280.55 629,278.9 630,277C631,275.1 631.73,273.42 632.5,271.5C633.27,269.58 633.92,267.5 634.6,265.5C635.28,263.5 635.95,261.38 636.6,259.5C637.25,257.62 637.87,255.68 638.5,254.2C639.13,252.72 639.82,251.47 640.4,250.6C640.98,249.73 641.48,249.38 642,249C642.52,248.62 642.67,248.4 643.5,248.3C644.33,248.2 645.42,248.27 647,248.4C648.58,248.53 650.48,248.67 653,249.1C655.52,249.53 658.45,249.93 662.1,251C665.75,252.07 672.77,254.75 674.9,255.5" stroke="#ff7f0e" stroke-width="1.05" fill="none" stroke-linejoin="round" stroke-linecap="butt"/>
<rect x="491.8" y="242.7" width="47.7" height="18.2" rx="1.3" fill="#fff" fill-opacity="0.8" stroke="#d6d6d6" stroke-width="0.5"/>
<path d="M494,247.3h11.8" stroke="#1f77b4" stroke-width="0.95"/>
<path d="M494,255.4h11.8" stroke="#ff7f0e" stroke-width="0.95"/>
<text x="510.04" y="250.2" font-size="5.94" textLength="12.98" lengthAdjust="spacingAndGlyphs" fill="#000">truth</text>
<text x="510.09" y="258.2" font-size="5.94" textLength="26.57" lengthAdjust="spacingAndGlyphs" fill="#000">prediction</text>
<rect x="489.5" y="240.5" width="195" height="144.8" fill="none" stroke="#333" stroke-width="0.7"/>
<path d="M493.4,385.3v1.1M496.64,385.3v1.1M499.37,385.3v1.1M501.74,385.3v1.1M503.83,385.3v1.1M505.5,385.3v2M518,385.3v1.1M525.19,385.3v1.1M530.29,385.3v1.1M534.25,385.3v1.1M537.49,385.3v1.1M540.22,385.3v1.1M542.59,385.3v1.1M544.68,385.3v1.1M546.5,385.3v2M558.85,385.3v1.1M566.04,385.3v1.1M571.14,385.3v1.1M575.1,385.3v1.1M578.34,385.3v1.1M581.07,385.3v1.1M583.44,385.3v1.1M585.53,385.3v1.1M587.5,385.3v2M599.7,385.3v1.1M606.89,385.3v1.1M611.99,385.3v1.1M615.95,385.3v1.1M619.19,385.3v1.1M621.92,385.3v1.1M624.29,385.3v1.1M626.38,385.3v1.1M628.5,385.3v2M640.55,385.3v1.1M647.74,385.3v1.1M652.84,385.3v1.1M656.8,385.3v1.1M660.04,385.3v1.1M662.77,385.3v1.1M665.14,385.3v1.1M667.23,385.3v1.1M669.5,385.3v2M681.4,385.3v1.1M489.5,379.1h-2M489.5,361.91h-2M489.5,344.73h-2M489.5,327.54h-2M489.5,310.35h-2M489.5,293.16h-2M489.5,275.98h-2M489.5,258.79h-2M489.5,241.6h-2" stroke="#333" stroke-width="0.5" fill="none"/>
<text x="499.73" y="395.7" font-size="5.94" textLength="6.48" lengthAdjust="spacingAndGlyphs" fill="#000">10</text>
<text x="506.51" y="392.9" font-size="4.16" textLength="5.17" lengthAdjust="spacingAndGlyphs" fill="#000">−5</text>
<text x="540.58" y="395.7" font-size="5.94" textLength="6.48" lengthAdjust="spacingAndGlyphs" fill="#000">10</text>
<text x="547.35" y="392.9" font-size="4.16" textLength="5.23" lengthAdjust="spacingAndGlyphs" fill="#000">−4</text>
<text x="581.43" y="395.7" font-size="5.94" textLength="6.48" lengthAdjust="spacingAndGlyphs" fill="#000">10</text>
<text x="588.21" y="392.9" font-size="4.16" textLength="5.2" lengthAdjust="spacingAndGlyphs" fill="#000">−3</text>
<text x="622.28" y="395.7" font-size="5.94" textLength="6.48" lengthAdjust="spacingAndGlyphs" fill="#000">10</text>
<text x="629.06" y="392.9" font-size="4.16" textLength="5.15" lengthAdjust="spacingAndGlyphs" fill="#000">−2</text>
<text x="663.13" y="395.7" font-size="5.94" textLength="6.48" lengthAdjust="spacingAndGlyphs" fill="#000">10</text>
<text x="669.91" y="392.9" font-size="4.16" textLength="5.18" lengthAdjust="spacingAndGlyphs" fill="#000">−1</text>
<text x="477.09" y="381.4" font-size="5.94" textLength="8.19" lengthAdjust="spacingAndGlyphs" fill="#000">0.0</text>
<text x="477.07" y="364.21" font-size="5.94" textLength="8.12" lengthAdjust="spacingAndGlyphs" fill="#000">2.5</text>
<text x="477.15" y="347.03" font-size="5.94" textLength="8.13" lengthAdjust="spacingAndGlyphs" fill="#000">5.0</text>
<text x="477.11" y="329.84" font-size="5.94" textLength="8.07" lengthAdjust="spacingAndGlyphs" fill="#000">7.5</text>
<text x="473.73" y="312.65" font-size="5.94" textLength="11.55" lengthAdjust="spacingAndGlyphs" fill="#000">10.0</text>
<text x="473.73" y="295.46" font-size="5.94" textLength="11.45" lengthAdjust="spacingAndGlyphs" fill="#000">12.5</text>
<text x="473.73" y="278.28" font-size="5.94" textLength="11.55" lengthAdjust="spacingAndGlyphs" fill="#000">15.0</text>
<text x="473.73" y="261.09" font-size="5.94" textLength="11.45" lengthAdjust="spacingAndGlyphs" fill="#000">17.5</text>
<text x="473.69" y="243.9" font-size="5.94" textLength="11.59" lengthAdjust="spacingAndGlyphs" fill="#000">20.0</text>
<text x="570.38" y="403.4" font-size="5.94" textLength="33.45" lengthAdjust="spacingAndGlyphs" fill="#000">wallDistance</text>
<g transform="translate(469.2,314.2) rotate(-90)">
<text x="-4.78" y="0" font-size="5.94" textLength="9.5" lengthAdjust="spacingAndGlyphs" fill="#000">U_x</text>
</g>
<text x="561.15" y="237.4" font-size="7.17" textLength="51.66" lengthAdjust="spacingAndGlyphs" fill="#000">x = 0.50524984</text>
<text x="22.65" y="205.6" font-family="Liberation Serif, serif" font-size="17.4" textLength="21.39" lengthAdjust="spacingAndGlyphs" fill="#111" stroke="#111" stroke-width="0.22">(a)</text>
<text x="50.14" y="205.6" font-family="Liberation Serif, serif" font-size="17.4" textLength="76.03" lengthAdjust="spacingAndGlyphs" fill="#111" stroke="#111" stroke-width="0.22">x-Velocity</text>
<text x="131.89" y="205.6" font-family="Liberation Serif, serif" font-size="17.4" textLength="64.39" lengthAdjust="spacingAndGlyphs" fill="#111" stroke="#111" stroke-width="0.22">contours</text>
<text x="239.6" y="205.6" font-family="Liberation Serif, serif" font-size="17.4" textLength="22.44" lengthAdjust="spacingAndGlyphs" fill="#111" stroke="#111" stroke-width="0.22">(b)</text>
<text x="268.14" y="205.6" font-family="Liberation Serif, serif" font-size="17.4" textLength="76.03" lengthAdjust="spacingAndGlyphs" fill="#111" stroke="#111" stroke-width="0.22">x-Velocity</text>
<text x="349.47" y="205.6" font-family="Liberation Serif, serif" font-size="17.4" textLength="14.95" lengthAdjust="spacingAndGlyphs" fill="#111" stroke="#111" stroke-width="0.22">at</text>
<text x="371.14" y="205.6" font-family="Liberation Serif, serif" font-size="17.4" textLength="9.08" lengthAdjust="spacingAndGlyphs" fill="#111" stroke="#111" stroke-width="0.22">x</text>
<text x="385.38" y="205.6" font-family="Liberation Serif, serif" font-size="17.4" textLength="14.91" lengthAdjust="spacingAndGlyphs" fill="#111" stroke="#111" stroke-width="0.22">=</text>
<text x="404.92" y="205.6" font-family="Liberation Serif, serif" font-size="17.4" textLength="40.32" lengthAdjust="spacingAndGlyphs" fill="#111" stroke="#111" stroke-width="0.22">0.019</text>
<text x="477.71" y="205.6" font-family="Liberation Serif, serif" font-size="17.4" textLength="19.98" lengthAdjust="spacingAndGlyphs" fill="#111" stroke="#111" stroke-width="0.22">(c)</text>
<text x="503.84" y="205.6" font-family="Liberation Serif, serif" font-size="17.4" textLength="76.03" lengthAdjust="spacingAndGlyphs" fill="#111" stroke="#111" stroke-width="0.22">x-Velocity</text>
<text x="585.17" y="205.6" font-family="Liberation Serif, serif" font-size="17.4" textLength="14.95" lengthAdjust="spacingAndGlyphs" fill="#111" stroke="#111" stroke-width="0.22">at</text>
<text x="606.84" y="205.6" font-family="Liberation Serif, serif" font-size="17.4" textLength="9.08" lengthAdjust="spacingAndGlyphs" fill="#111" stroke="#111" stroke-width="0.22">x</text>
<text x="621.08" y="205.6" font-family="Liberation Serif, serif" font-size="17.4" textLength="14.91" lengthAdjust="spacingAndGlyphs" fill="#111" stroke="#111" stroke-width="0.22">=</text>
<text x="640.61" y="205.6" font-family="Liberation Serif, serif" font-size="17.4" textLength="31.57" lengthAdjust="spacingAndGlyphs" fill="#111" stroke="#111" stroke-width="0.22">0.20</text>
<text x="10.75" y="433.6" font-family="Liberation Serif, serif" font-size="17.4" textLength="22.44" lengthAdjust="spacingAndGlyphs" fill="#111" stroke="#111" stroke-width="0.22">(d)</text>
<text x="39.29" y="433.6" font-family="Liberation Serif, serif" font-size="17.4" textLength="76.03" lengthAdjust="spacingAndGlyphs" fill="#111" stroke="#111" stroke-width="0.22">x-Velocity</text>
<text x="120.62" y="433.6" font-family="Liberation Serif, serif" font-size="17.4" textLength="14.95" lengthAdjust="spacingAndGlyphs" fill="#111" stroke="#111" stroke-width="0.22">at</text>
<text x="142.29" y="433.6" font-family="Liberation Serif, serif" font-size="17.4" textLength="9.08" lengthAdjust="spacingAndGlyphs" fill="#111" stroke="#111" stroke-width="0.22">x</text>
<text x="156.53" y="433.6" font-family="Liberation Serif, serif" font-size="17.4" textLength="14.91" lengthAdjust="spacingAndGlyphs" fill="#111" stroke="#111" stroke-width="0.22">=</text>
<text x="176.06" y="433.6" font-family="Liberation Serif, serif" font-size="17.4" textLength="31.9" lengthAdjust="spacingAndGlyphs" fill="#111" stroke="#111" stroke-width="0.22">0.32</text>
<text x="244.91" y="433.6" font-family="Liberation Serif, serif" font-size="17.4" textLength="19.98" lengthAdjust="spacingAndGlyphs" fill="#111" stroke="#111" stroke-width="0.22">(e)</text>
<text x="271.04" y="433.6" font-family="Liberation Serif, serif" font-size="17.4" textLength="76.03" lengthAdjust="spacingAndGlyphs" fill="#111" stroke="#111" stroke-width="0.22">x-Velocity</text>
<text x="352.37" y="433.6" font-family="Liberation Serif, serif" font-size="17.4" textLength="14.95" lengthAdjust="spacingAndGlyphs" fill="#111" stroke="#111" stroke-width="0.22">at</text>
<text x="374.04" y="433.6" font-family="Liberation Serif, serif" font-size="17.4" textLength="9.08" lengthAdjust="spacingAndGlyphs" fill="#111" stroke="#111" stroke-width="0.22">x</text>
<text x="388.28" y="433.6" font-family="Liberation Serif, serif" font-size="17.4" textLength="14.91" lengthAdjust="spacingAndGlyphs" fill="#111" stroke="#111" stroke-width="0.22">=</text>
<text x="407.81" y="433.6" font-family="Liberation Serif, serif" font-size="17.4" textLength="31.57" lengthAdjust="spacingAndGlyphs" fill="#111" stroke="#111" stroke-width="0.22">0.38</text>
<text x="478.23" y="433.6" font-family="Liberation Serif, serif" font-size="17.4" textLength="17.54" lengthAdjust="spacingAndGlyphs" fill="#111" stroke="#111" stroke-width="0.22">(f)</text>
<text x="501.94" y="433.6" font-family="Liberation Serif, serif" font-size="17.4" textLength="76.03" lengthAdjust="spacingAndGlyphs" fill="#111" stroke="#111" stroke-width="0.22">x-Velocity</text>
<text x="583.27" y="433.6" font-family="Liberation Serif, serif" font-size="17.4" textLength="14.95" lengthAdjust="spacingAndGlyphs" fill="#111" stroke="#111" stroke-width="0.22">at</text>
<text x="604.94" y="433.6" font-family="Liberation Serif, serif" font-size="17.4" textLength="9.08" lengthAdjust="spacingAndGlyphs" fill="#111" stroke="#111" stroke-width="0.22">x</text>
<text x="619.18" y="433.6" font-family="Liberation Serif, serif" font-size="17.4" textLength="14.91" lengthAdjust="spacingAndGlyphs" fill="#111" stroke="#111" stroke-width="0.22">=</text>
<text x="638.71" y="433.6" font-family="Liberation Serif, serif" font-size="17.4" textLength="31.57" lengthAdjust="spacingAndGlyphs" fill="#111" stroke="#111" stroke-width="0.22">0.50</text>
</svg>
</body></html>
